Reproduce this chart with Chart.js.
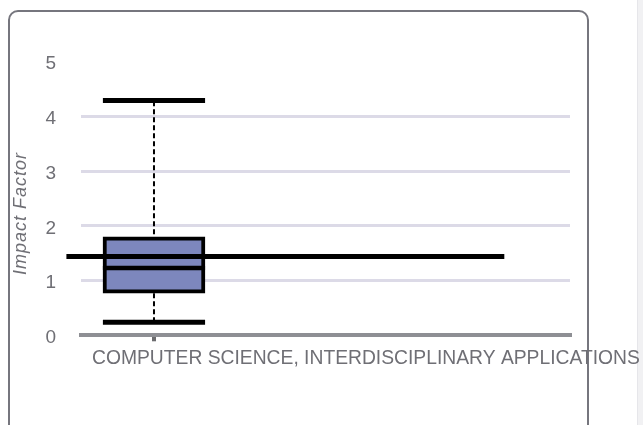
<!DOCTYPE html>
<html><head><meta charset="utf-8">
<script src="https://cdn.jsdelivr.net/npm/chart.js@4/dist/chart.umd.min.js"></script>
<style>
html,body{margin:0;padding:0;background:#fff;overflow:hidden;width:643px;height:425px;}
#panel{position:absolute;left:8px;top:10px;width:581px;height:520px;box-sizing:border-box;border:2px solid #76767e;border-radius:10px;}
#strip{position:absolute;left:637px;top:0;width:6px;height:425px;background:#f1f1f3;border-left:1px solid #e6e6ea;box-sizing:border-box;}
#wrap{position:absolute;left:0;top:0;width:643px;height:425px;}
</style></head><body>
<div id="panel"></div><div id="strip"></div>
<div id="wrap"><canvas id="c"></canvas></div>
<script>
// ---- data ----
const categories = ['COMPUTER SCIENCE, INTERDISCIPLINARY APPLICATIONS'];
const categoryPositions = [0];
const whiskerLow = [0.24];
const quartile1 = [0.77];
const medians = [1.23];
const quartile3 = [1.80];
const whiskerHigh = [4.29];
const journalImpactFactor = [1.44];
const referenceSpan = [-0.6, 2.4];
const yTickValues = [0, 1, 2, 3, 4, 5];
const yAxisTitle = 'Impact Factor';

// ---- styles ----
const GRAY_TEXT = '#6f6f75';
const FONT = "'Liberation Sans', Arial, sans-serif";
const CAP_HALF = 0.35;

const i = 0;
const cx = categoryPositions[i];
const lineDs = (pts, w, extra) => Object.assign({
  type: 'line', data: pts, borderColor: '#000', borderWidth: w,
  pointRadius: 0, pointHoverRadius: 0, tension: 0, fill: false, clip: false,
  borderCapStyle: 'butt'
}, extra || {});

const datasets = [
  lineDs([{x: referenceSpan[0], y: journalImpactFactor[i]}, {x: referenceSpan[1], y: journalImpactFactor[i]}], 5),
  lineDs([{x: cx - CAP_HALF, y: medians[i]}, {x: cx + CAP_HALF, y: medians[i]}], 4.5),
  lineDs([{x: cx - CAP_HALF, y: whiskerHigh[i]}, {x: cx + CAP_HALF, y: whiskerHigh[i]}], 5),
  lineDs([{x: cx - CAP_HALF, y: whiskerLow[i]}, {x: cx + CAP_HALF, y: whiskerLow[i]}], 5),
  {
    type: 'bar',
    data: [{x: cx, y: [quartile1[i], quartile3[i]]}],
    backgroundColor: '#7d87bd',
    borderColor: '#000',
    borderWidth: 4,
    borderSkipped: false,
    barThickness: 102
  },
  lineDs([{x: cx, y: whiskerLow[i]}, {x: cx, y: whiskerHigh[i]}], 2, {borderDash: [5, 3]})
];

const titlePlugin = {
  id: 'yTitle',
  afterDraw(chart) {
    const ctx = chart.ctx;
    const ya = chart.scales.y;
    ctx.save();
    ctx.translate(21, (ya.top + ya.bottom) / 2 + 15);
    ctx.rotate(-Math.PI / 2);
    ctx.font = "italic 18px " + FONT;
    ctx.letterSpacing = '1px';
    ctx.fillStyle = GRAY_TEXT;
    ctx.textAlign = 'center';
    ctx.textBaseline = 'middle';
    ctx.fillText(yAxisTitle, 0, 0);
    ctx.restore();
  }
};

new Chart(document.getElementById('c'), {
  type: 'bar',
  data: { datasets },
  options: {
    responsive: true, maintainAspectRatio: false, animation: false,
    layout: { padding: { left: 0, right: 73, top: 61.5, bottom: 49.7 } },
    plugins: { legend: { display: false }, tooltip: { enabled: false } },
    scales: {
      x: {
        type: 'linear', min: -0.5, max: 2.85, offset: false,
        afterBuildTicks: s => { s.ticks = categoryPositions.map(v => ({ value: v })); },
        afterFit: s => { s.height = 40; s.paddingLeft = 0; s.paddingRight = 0; },
        grid: { offset: false, drawOnChartArea: false, drawTicks: true, tickLength: 6, tickColor: '#6b6b6e', lineWidth: 4 },
        border: { display: true, color: '#8e8f94', width: 4 },
        ticks: {
          autoSkip: false, maxRotation: 0, align: 'start', labelOffset: -62, padding: 6,
          color: GRAY_TEXT, font: { family: FONT, size: 19.3 },
          callback: (v) => { const k = categoryPositions.indexOf(v); return k >= 0 ? categories[k] : ''; }
        }
      },
      y: {
        min: 0, max: 5,
        afterBuildTicks: s => { s.ticks = yTickValues.map(v => ({ value: v })); },
        afterFit: s => { s.width = 81; s.paddingTop = 0; s.paddingBottom = 0; },
        grid: {
          drawTicks: false, lineWidth: 3,
          color: c => (c.tick && (c.tick.value === 0 || c.tick.value === 5)) ? 'rgba(0,0,0,0)' : '#dcdae7'
        },
        border: { display: false },
        ticks: { padding: 25, labelOffset: 2.5, color: GRAY_TEXT, font: { family: FONT, size: 19 } }
      }
    }
  },
  plugins: [titlePlugin]
});
</script>
</body></html>
